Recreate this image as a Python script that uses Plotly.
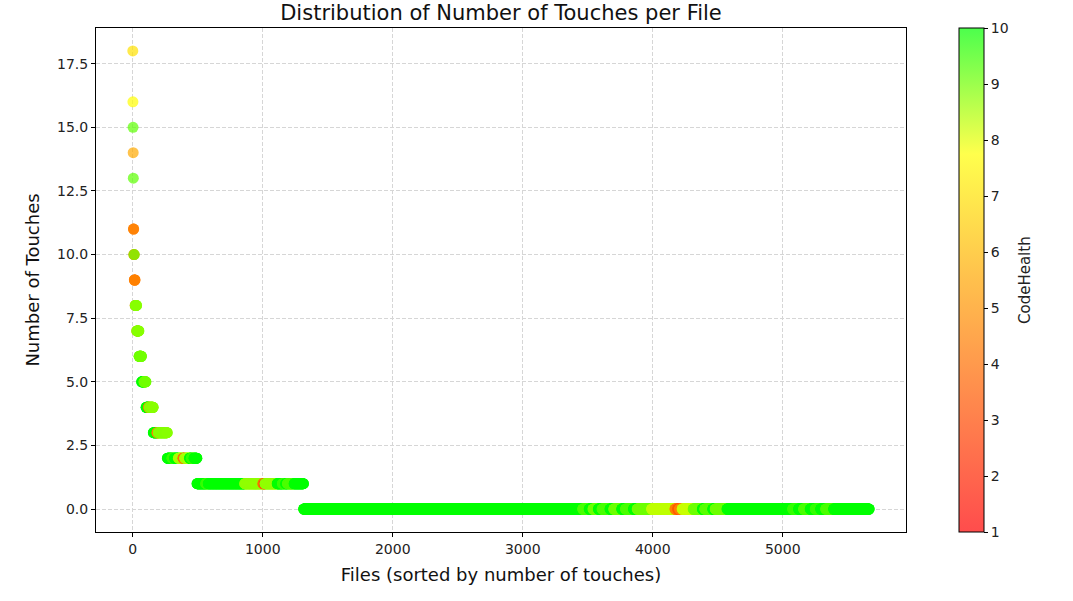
import numpy as np
import plotly.graph_objects as go

# ---- data ----
touch_levels = [18, 16, 15, 14, 13, 11, 10, 9, 8, 7, 6, 5, 4, 3, 2, 1, 0]
files_per_level = [1, 1, 1, 1, 1, 3, 4, 6, 12, 18, 20, 34, 56, 108, 228, 820, 4352]

default_health = 10.0
# (first file index, last file index, CodeHealth) for files whose health is not 10
health_run_start = [0, 1, 2, 3, 4, 5, 8, 9, 10, 11, 12, 18, 19, 30, 31, 48,
                    86, 121, 127, 186, 196, 301, 351, 386, 399, 450,
                    561, 861, 1001, 1013, 1017, 1151, 1190,
                    3461, 3540, 3610, 3700, 3790, 3880, 3991, 4171, 4191, 4206, 4226, 4311, 4400, 4480,
                    5076, 5160, 5250, 5330]
health_run_end = [0, 1, 2, 3, 4, 7, 8, 9, 10, 11, 17, 18, 29, 30, 47, 67,
                  101, 126, 157, 195, 265, 320, 385, 398, 435, 470,
                  580, 1000, 1012, 1016, 1110, 1175, 1240,
                  3510, 3580, 3670, 3760, 3850, 3990, 4170, 4190, 4205, 4225, 4310, 4380, 4460, 4570,
                  5120, 5210, 5290, 5390]
health_run_value = [7.0, 7.7, 9.2, 5.6, 9.2, 4.5, 4.5, 9.0, 4.5, 9.0, 4.5, 4.5, 8.8, 4.5, 8.8, 9.0,
                    9.0, 4.5, 8.8, 4.5, 8.8, 9.5, 8.5, 4.0, 8.5, 9.5,
                    9.5, 8.7, 4.0, 3.0, 8.7, 9.5, 9.3,
                    9.3, 9.0, 9.3, 9.0, 9.3, 9.0, 8.3, 4.5, 3.5, 4.5, 8.2, 9.0, 9.2, 9.0,
                    9.5, 9.3, 9.5, 9.3]

x_ticks = [0, 1000, 2000, 3000, 4000, 5000]
y_ticks = [0, 2.5, 5, 7.5, 10, 12.5, 15, 17.5]
cbar_ticks = [1, 2, 3, 4, 5, 6, 7, 8, 9, 10]

# ---- build per-file arrays ----
touches = np.repeat(touch_levels, files_per_level)
file_index = np.arange(len(touches))
health = np.full(len(touches), default_health)
for s, e, h in zip(health_run_start, health_run_end, health_run_value):
    health[s:e + 1] = h

colorscale = [
    [0.0, "rgba(255,0,0,0.7)"],
    [0.5, "rgba(255,165,0,0.7)"],
    [0.75, "rgba(255,255,0,0.7)"],
    [1.0, "rgba(0,255,0,0.7)"],
]

font = "DejaVu Sans, Liberation Sans, sans-serif"
plot_w = 810

fig = go.Figure(
    go.Scatter(
        x=file_index,
        y=touches,
        mode="markers",
        marker=dict(
            size=11,
            color=health,
            colorscale=colorscale,
            cmin=1,
            cmax=10,
            line=dict(width=0),
            showscale=True,
            colorbar=dict(
                x=(959 - 96) / plot_w,
                xanchor="left",
                xref="paper",
                xpad=0,
                y=0.5,
                yanchor="middle",
                ypad=0,
                len=1.0,
                lenmode="fraction",
                thickness=25,
                thicknessmode="pixels",
                outlinewidth=1,
                outlinecolor="black",
                tickvals=cbar_ticks,
                ticks="outside",
                ticklen=4,
                tickcolor="black",
                tickfont=dict(size=14, color="#222", family=font),
            ),
        ),
        hoverinfo="x+y",
        showlegend=False,
    )
)

axis_common = dict(
    showline=True,
    linecolor="black",
    linewidth=1,
    mirror=True,
    ticks="outside",
    ticklen=4,
    tickcolor="black",
    showgrid=True,
    gridcolor="#d6d6d6",
    griddash="4px,2px",
    gridwidth=1,
    zeroline=False,
    tickfont=dict(size=14, color="#222", family=font),
)

fig.update_layout(
    width=1073,
    height=601,
    margin=dict(l=96, r=167, t=28, b=69),
    paper_bgcolor="white",
    plot_bgcolor="white",
    font=dict(family=font, color="#222"),
    title=dict(
        text="Distribution of Number of Touches per File",
        x=0.5,
        xref="paper",
        xanchor="center",
        y=1 - 13 / 601,
        yref="container",
        yanchor="middle",
        font=dict(size=21, color="#111", family=font),
    ),
    xaxis=dict(
        range=[-283, 5948],
        tickvals=x_ticks,
        title=dict(text="Files (sorted by number of touches)",
                   font=dict(size=18, color="#111", family=font), standoff=12),
        **axis_common,
    ),
    yaxis=dict(
        range=[-0.9, 18.9],
        tickvals=y_ticks,
        tickformat=".1f",
        title=dict(text="Number of Touches",
                   font=dict(size=18, color="#111", family=font), standoff=12),
        **axis_common,
    ),
    annotations=[
        dict(
            text="CodeHealth",
            textangle=-90,
            xref="paper",
            yref="paper",
            x=(1025 - 96) / plot_w,
            y=0.5,
            xanchor="center",
            yanchor="middle",
            showarrow=False,
            font=dict(size=15, color="#222", family=font),
        )
    ],
)

fig.write_html("out.html")
